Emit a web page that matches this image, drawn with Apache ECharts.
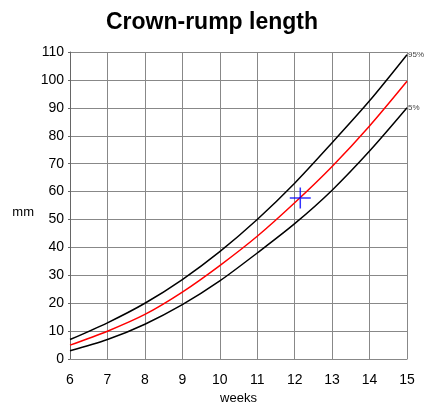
<!DOCTYPE html>
<html>
<head>
<meta charset="utf-8">
<script src="https://cdn.jsdelivr.net/npm/echarts@6/dist/echarts.min.js"></script>
<style>
  html, body { margin: 0; padding: 0; background: #fff; }
  #chart { width: 424px; height: 410px; }
</style>
</head>
<body>
<div id="chart"></div>
<script>
// weeks of gestation
const weeks = [6, 7, 8, 9, 10, 11, 12, 13, 14, 15];
// crown-rump length, mm
const p95 = [7, 13, 20, 28.5, 38.5, 50, 63, 77.5, 92.5, 109];
const p50 = [5, 10, 16, 24, 33.5, 44, 56, 69, 83.5, 99.5];
const p5 = [3, 7, 12.5, 19.5, 28, 38, 48.5, 60.5, 74.5, 90];
// measured point
const measured = [[12.15, 57.7]];

const pairs = (ys) => weeks.map((w, i) => [w, ys[i]]);

let myChart = echarts.init(document.getElementById('chart'));
myChart.setOption({
  animation: false,
  textStyle: { fontFamily: 'Liberation Sans, Arial, sans-serif' },
  title: {
    text: 'Crown-rump length',
    left: 'center',
    top: 6,
    textStyle: { fontSize: 23, fontWeight: 'bold', color: '#000' }
  },
  grid: { left: 70, right: 17, top: 52, bottom: 48 },
  xAxis: {
    type: 'value',
    min: 6,
    max: 15,
    interval: 1,
    name: 'weeks',
    nameLocation: 'middle',
    nameGap: 31,
    nameTextStyle: { fontSize: 13, color: '#000' },
    axisLine: { lineStyle: { color: '#888' } },
    axisTick: { show: false },
    axisLabel: { fontSize: 14, color: '#000', margin: 14 },
    splitLine: { show: true, lineStyle: { color: '#888', width: 1 } }
  },
  yAxis: {
    type: 'value',
    min: 0,
    max: 110,
    interval: 10,
    name: 'mm',
    nameLocation: 'middle',
    nameRotate: 0,
    nameGap: 36,
    nameTextStyle: { fontSize: 13, color: '#000', verticalAlign: 'top' },
    axisLine: { show: true, lineStyle: { color: '#666' } },
    axisTick: { show: true, length: 2, lineStyle: { color: '#666' } },
    axisLabel: { fontSize: 14, color: '#000', margin: 6 },
    splitLine: { show: true, lineStyle: { color: '#888', width: 1 } }
  },
  series: [
    {
      name: '95%',
      type: 'line',
      smooth: 0.3,
      symbol: 'none',
      data: pairs(p95),
      lineStyle: { color: '#000', width: 1.5 },
      endLabel: { show: true, formatter: '95%', fontSize: 8, color: '#444', distance: 1 }
    },
    {
      name: '50%',
      type: 'line',
      smooth: 0.3,
      symbol: 'none',
      data: pairs(p50),
      lineStyle: { color: '#ff0000', width: 1.5 }
    },
    {
      name: '5%',
      type: 'line',
      smooth: 0.3,
      symbol: 'none',
      data: pairs(p5),
      lineStyle: { color: '#000', width: 1.5 },
      endLabel: { show: true, formatter: '5%', fontSize: 8, color: '#444', distance: 1 }
    },
    {
      name: 'measured',
      type: 'scatter',
      data: measured,
      symbol: 'path://M10,0L10,20M0,10L20,10',
      symbolSize: 21,
      itemStyle: { color: 'none', borderColor: '#0000ff', borderWidth: 1.5 },
      z: 5
    }
  ]
});
</script>
</body>
</html>
